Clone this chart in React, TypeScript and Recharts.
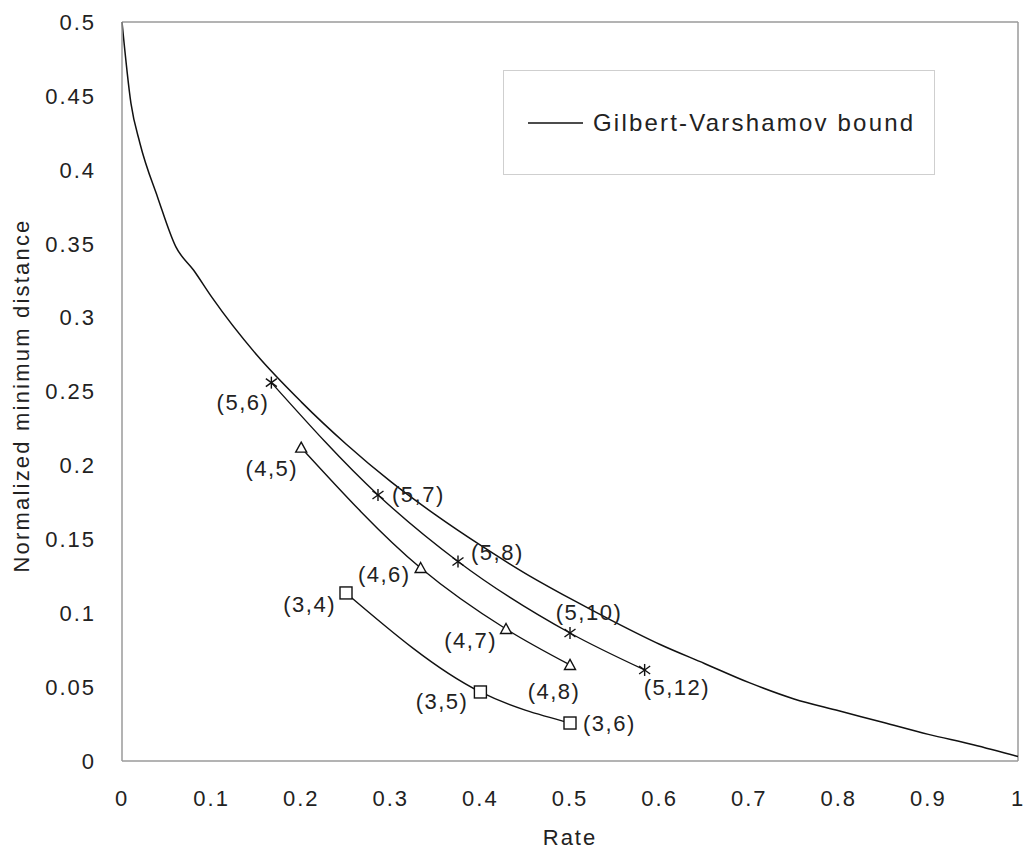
import React from "react";
import { ComposedChart, Line, XAxis, YAxis, ReferenceLine, Legend, LabelList } from "recharts";

// Gilbert-Varshamov bound
const gvRate = [0, 0.01, 0.02, 0.04, 0.06, 0.08, 0.1, 0.15, 0.2, 0.25, 0.3, 0.35, 0.4, 0.45, 0.5, 0.55, 0.6, 0.65, 0.7, 0.75, 0.8, 0.85, 0.9, 0.95, 1];
const gvDist = [0.5, 0.445, 0.418, 0.381, 0.348, 0.332, 0.314, 0.275, 0.243, 0.2145, 0.189, 0.1665, 0.146, 0.127, 0.11, 0.094, 0.079, 0.066, 0.053, 0.042, 0.034, 0.026, 0.018, 0.011, 0.003];

// dv = 5 codes
const d5Labels = ["(5,6)", "(5,7)", "(5,8)", "(5,10)", "(5,12)"];
const d5Rate = [0.1667, 0.2857, 0.375, 0.5, 0.5833];
const d5Dist = [0.256, 0.18, 0.135, 0.0866, 0.0616];

// dv = 4 codes
const d4Labels = ["(4,5)", "(4,6)", "(4,7)", "(4,8)"];
const d4Rate = [0.2, 0.3333, 0.4286, 0.5];
const d4Dist = [0.212, 0.1306, 0.0893, 0.065];

// dv = 3 codes
const d3Labels = ["(3,4)", "(3,5)", "(3,6)"];
const d3Rate = [0.25, 0.4, 0.5];
const d3Dist = [0.1137, 0.0467, 0.0257];

const xTicks = [0, 0.1, 0.2, 0.3, 0.4, 0.5, 0.6, 0.7, 0.8, 0.9, 1];
const yTicks = [0, 0.05, 0.1, 0.15, 0.2, 0.25, 0.3, 0.35, 0.4, 0.45, 0.5];

// label placement (style only)
const labelPlace: Record<string, { dx: number; dy: number; anchor: "start" | "middle" | "end" }> = {
  "(5,6)": { dx: -2, dy: 20, anchor: "end" },
  "(5,7)": { dx: 14, dy: 0, anchor: "start" },
  "(5,8)": { dx: 13, dy: -9, anchor: "start" },
  "(5,10)": { dx: 19, dy: -21, anchor: "middle" },
  "(5,12)": { dx: -1, dy: 18, anchor: "start" },
  "(4,5)": { dx: -3, dy: 21, anchor: "end" },
  "(4,6)": { dx: -10, dy: 7, anchor: "end" },
  "(4,7)": { dx: -9, dy: 11, anchor: "end" },
  "(4,8)": { dx: -16, dy: 27, anchor: "middle" },
  "(3,4)": { dx: -10, dy: 12, anchor: "end" },
  "(3,5)": { dx: -12, dy: 10, anchor: "end" },
  "(3,6)": { dx: 13, dy: 0, anchor: "start" },
};

const FONT = "'Liberation Sans', Arial, sans-serif";

const zip = (xs: number[], ys: number[], labels?: string[]) =>
  xs.map((x, i) => ({ x, y: ys[i], label: labels ? labels[i] : undefined }));

const gvData = zip(gvRate, gvDist);
const d5Data = zip(d5Rate, d5Dist, d5Labels);
const d4Data = zip(d4Rate, d4Dist, d4Labels);
const d3Data = zip(d3Rate, d3Dist, d3Labels);

const Star = (p: any) => {
  const { cx, cy } = p;
  if (cx == null || cy == null) return <g key={p.index} />;
  return (
    <g key={`s${p.index}`} stroke="#111" strokeWidth={1.4}>
      <line x1={cx} y1={cy - 6} x2={cx} y2={cy + 6} />
      <line x1={cx - 5.5} y1={cy - 4} x2={cx + 5.5} y2={cy + 4} />
      <line x1={cx - 5.5} y1={cy + 4} x2={cx + 5.5} y2={cy - 4} />
    </g>
  );
};

const Tri = (p: any) => {
  const { cx, cy } = p;
  if (cx == null || cy == null) return <g key={p.index} />;
  return (
    <path
      key={`t${p.index}`}
      d={`M${cx},${cy - 5.5} L${cx + 5.5},${cy + 4.5} L${cx - 5.5},${cy + 4.5} Z`}
      fill="#fff"
      stroke="#111"
      strokeWidth={1.4}
    />
  );
};

const Sq = (p: any) => {
  const { cx, cy } = p;
  if (cx == null || cy == null) return <g key={p.index} />;
  return <rect key={`q${p.index}`} x={cx - 6} y={cy - 6} width={12} height={12} fill="#fff" stroke="#111" strokeWidth={1.4} />;
};

const PointLabel = (p: any) => {
  const { x, y, value } = p;
  const pl = labelPlace[value] || { dx: 8, dy: 0, anchor: "start" };
  return (
    <text
      x={x + pl.dx}
      y={y + pl.dy}
      textAnchor={pl.anchor}
      dominantBaseline="central"
      fontFamily={FONT}
      fontSize={22}
      letterSpacing={1.5}
      fill="#222"
    >
      {value}
    </text>
  );
};

const YLabel = (p: any) => {
  const vb = p.viewBox || { x: 0, y: 22, width: 122, height: 739 };
  const cx = 21;
  const cy = vb.y + vb.height / 2 + 4;
  return (
    <text
      x={cx}
      y={cy}
      transform={`rotate(-90 ${cx} ${cy})`}
      textAnchor="middle"
      dominantBaseline="central"
      fontFamily={FONT}
      fontSize={22}
      letterSpacing={2.2}
      fill="#222"
    >
      Normalized minimum distance
    </text>
  );
};

const LegendBox = () => (
  <div
    style={{
      width: 432,
      height: 105,
      boxSizing: "border-box",
      border: "1.5px solid #cfcfcf",
      background: "#fff",
      position: "relative",
      fontFamily: FONT,
    }}
  >
    <svg width={60} height={10} style={{ position: "absolute", left: 24, top: 47 }}>
      <line x1={0} y1={5} x2={55} y2={5} stroke="#111" strokeWidth={1.5} />
    </svg>
    <span
      style={{
        position: "absolute",
        left: 89,
        top: 52,
        transform: "translateY(-50%)",
        fontSize: 24,
        letterSpacing: 2.2,
        color: "#222",
        whiteSpace: "nowrap",
      }}
    >
      Gilbert-Varshamov bound
    </span>
  </div>
);

const tickStyle = { fontFamily: FONT, fontSize: 22, fill: "#222", letterSpacing: 2 };
const axisStroke = "#9a9a9a";

export default function App() {
  return (
    <div style={{ position: "absolute", left: 0, top: 0, background: "#fff" }}>
      <ComposedChart width={1025} height={855} margin={{ top: 22, right: 7, bottom: 0, left: 0 }}>
        <XAxis
          dataKey="x"
          type="number"
          domain={[0, 1]}
          ticks={xTicks}
          tickFormatter={(v: number) => String(v)}
          tick={tickStyle}
          tickLine={false}
          tickSize={0}
          tickMargin={29}
          height={94}
          stroke={axisStroke}
          strokeWidth={1.5}
          allowDuplicatedCategory={false}
          label={{ value: "Rate", position: "insideBottom", offset: 10, fontFamily: FONT, fontSize: 22, fill: "#222", letterSpacing: 2 }}
        />
        <YAxis
          dataKey="y"
          type="number"
          domain={[0, 0.5]}
          ticks={yTicks}
          tickFormatter={(v: number) => String(v)}
          tick={tickStyle}
          tickLine={false}
          tickSize={0}
          tickMargin={26}
          width={122}
          stroke={axisStroke}
          strokeWidth={1.5}
          label={<YLabel />}
        />
        <ReferenceLine y={0.5} stroke={axisStroke} strokeWidth={1.5} ifOverflow="extendDomain" />
        <ReferenceLine x={1} stroke={axisStroke} strokeWidth={1.5} ifOverflow="extendDomain" />
        <Legend
          layout="horizontal"
          verticalAlign="middle"
          align="center"
          content={() => <LegendBox />}
          wrapperStyle={{ position: "absolute", left: 503, top: 70, width: 432, height: 105 }}
        />
        <Line
          data={gvData}
          dataKey="y"
          name="Gilbert-Varshamov bound"
          type="monotone"
          stroke="#111"
          strokeWidth={1.5}
          dot={false}
          activeDot={false}
          isAnimationActive={false}
        />
        <Line
          data={d5Data}
          dataKey="y"
          name="dv=5"
          type="monotone"
          stroke="#111"
          strokeWidth={1.4}
          dot={Star}
          activeDot={false}
          isAnimationActive={false}
          legendType="none"
        >
          <LabelList dataKey="label" content={PointLabel} />
        </Line>
        <Line
          data={d4Data}
          dataKey="y"
          name="dv=4"
          type="monotone"
          stroke="#111"
          strokeWidth={1.4}
          dot={Tri}
          activeDot={false}
          isAnimationActive={false}
          legendType="none"
        >
          <LabelList dataKey="label" content={PointLabel} />
        </Line>
        <Line
          data={d3Data}
          dataKey="y"
          name="dv=3"
          type="monotone"
          stroke="#111"
          strokeWidth={1.4}
          dot={Sq}
          activeDot={false}
          isAnimationActive={false}
          legendType="none"
        >
          <LabelList dataKey="label" content={PointLabel} />
        </Line>
      </ComposedChart>
    </div>
  );
}
